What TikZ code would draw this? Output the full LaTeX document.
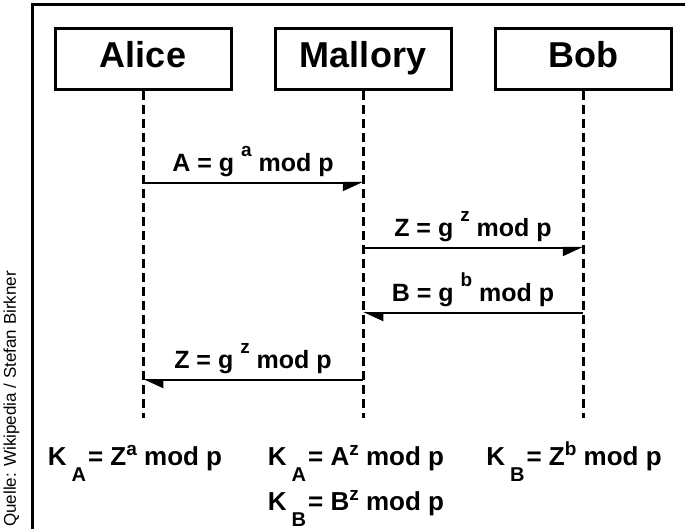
\documentclass[tikz,border=0pt]{standalone}
\usepackage{fontspec}
\setmainfont{Liberation Sans}
\usetikzlibrary{arrows.meta}
\newcommand{\expo}[2][10pt]{\raisebox{#1}{\fontsize{19}{19}\selectfont #2}}
\newcommand{\indx}[1]{\raisebox{-16pt}{\fontsize{20}{20}\selectfont #1}}
\tikzset{
  party/.style={draw, line width=3pt, minimum width=176pt, minimum height=61pt, inner sep=0pt,
    text height=25pt, text depth=7pt, font=\fontsize{36}{40}\selectfont\bfseries},
  life/.style={line width=3pt, dash pattern=on 9pt off 5pt},
  msg/.style={line width=2pt},
  tor/.style={msg, -{Triangle[right,length=18pt,width=16pt]}},
  tol/.style={msg, -{Triangle[left,length=18pt,width=16pt]}},
  lbl/.style={above=5pt, inner sep=0pt, font=\fontsize{25}{28}\selectfont\bfseries},
  key/.style={anchor=base, inner sep=0pt, font=\fontsize{26}{30}\selectfont\bfseries}
}
\begin{document}
\begin{tikzpicture}[x=1pt,y=-1pt]
\useasboundingbox (0,0) rectangle (685,529);
\fill[white] (0,0) rectangle (685,529);
\clip (0,0) rectangle (685,529);
\draw[line width=3pt] (32,5) rectangle (700,545);
\node[rotate=90, anchor=base west, inner sep=0pt, font=\fontsize{17}{19}\selectfont] (src) at (16,527) {Quelle: Wikipedia / Stefan Birkner};
% parties
\node[party] (alice) at (143,59) {Alice};
\node[party] (mallory) at (363,59) {Mallory};
\node[party] (bob) at (583,59) {Bob};
\coordinate (aend) at (143,418);
\coordinate (mend) at (363,418);
\coordinate (bend) at (583,418);
\draw[life] (alice.south) -- (aend);
\draw[life] (mallory.south) -- (mend);
\draw[life] (bob.south) -- (bend);
% messages
\coordinate (a1) at (143,183); \coordinate (m1) at (363,183);
\coordinate (m2) at (363,248); \coordinate (b2) at (583,248);
\coordinate (b3) at (583,313); \coordinate (m3) at (363,313);
\coordinate (m4) at (363,380); \coordinate (a4) at (143,380);
\draw[tor] (a1) -- node[lbl] (l1) {A = g \expo[15pt]{a} mod p} (m1);
\draw[tor] (m2) -- node[lbl] (l2) {Z = g \expo[15pt]{z} mod p} (b2);
\draw[tol] (b3) -- node[lbl] (l3) {B = g \expo[15pt]{b} mod p} (m3);
\draw[tol] (m4) -- node[lbl] (l4) {Z = g \expo[15pt]{z} mod p} (a4);
% keys
\node[key] (ka) at (135,465) {K\hspace{5pt}\indx{A}\hspace{2pt}= Z\expo{a} mod p};
\node[key] (kma) at (356,465) {K\hspace{5pt}\indx{A}\hspace{2pt}= A\expo{z} mod p};
\node[key] (kmb) at (356,510) {K\hspace{5pt}\indx{B}\hspace{2pt}= B\expo{z} mod p};
\node[key] (kb) at (574,465) {K\hspace{5pt}\indx{B}\hspace{2pt}= Z\expo{b} mod p};
\end{tikzpicture}
\end{document}
